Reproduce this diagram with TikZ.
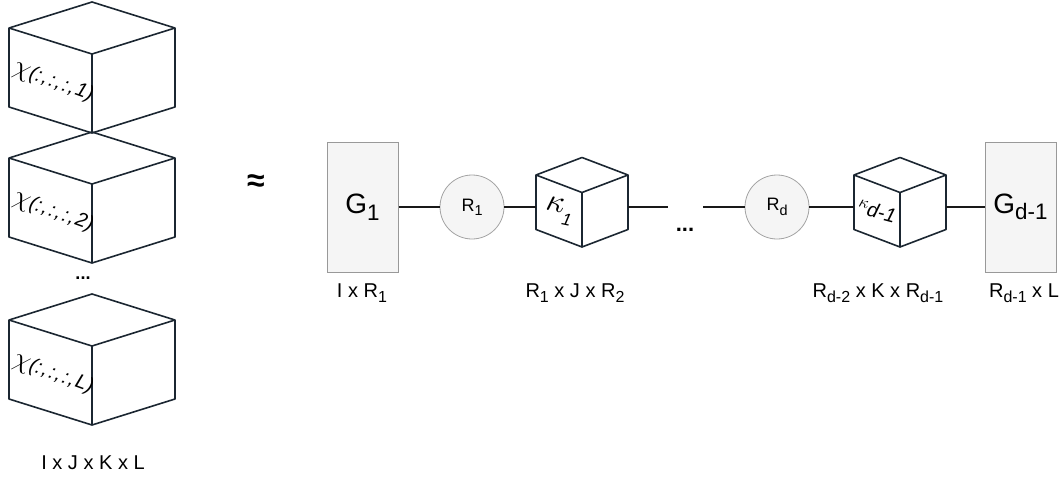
\documentclass[tikz,border=0pt]{standalone}
\usepackage{amsmath}
\usepackage{fontspec}
\usepackage{unicode-math}
\setmainfont{Liberation Sans}
\setmathfont{Latin Modern Math}
\usetikzlibrary{positioning}
\definecolor{edgeblue}{HTML}{1B2631}
\definecolor{panel}{HTML}{F5F5F5}
\definecolor{rim}{HTML}{999999}
\tikzset{%
	cubeline/.style = {draw=edgeblue, line width=1.6pt, line join=round},
	core/.style     = {draw=rim, fill=panel, line width=1pt, minimum width=71pt, minimum height=130pt, inner sep=0pt, font=\fontsize{28}{30}\selectfont},
	rank/.style     = {draw=rim!90, fill=panel, circle, line width=0.8pt, minimum size=64pt, inner sep=0pt, font=\fontsize{18}{20}\selectfont},
	dims/.style     = {font=\fontsize{20}{22}\selectfont},
	slice/.style    = {rotate=-20, inner sep=0pt, font=\itshape\fontsize{20}{21}\selectfont},
	link/.style     = {line width=2pt, black!90},
	pics/cube/.style n args = {3}{code={%
		\draw[cubeline] (0,0) -- (-#1,#2) -- (-#1,#2+#3) -- (0,2*#2+#3) -- (#1,#2+#3) -- (#1,#2) -- cycle
			(-#1,#2) -- (0,2*#2) -- (#1,#2)
			(0,2*#2) -- (0,2*#2+#3);
		\coordinate (-west) at (-#1,#2+0.58*#3);
		\coordinate (-east) at (#1,#2+0.58*#3);
		\coordinate (-face) at (-0.5*#1,1.5*#2+0.5*#3);
	}},
}
\newcommand{\ix}[1]{\raisebox{-0.45ex}{\scalebox{0.8}{#1}}}
\newcommand{\bigsym}[2]{{\fontsize{#1}{#1}\selectfont$#2$}}

\begin{document}
\begin{tikzpicture}[x=1pt,y=-1pt]
	\useasboundingbox (0,0) rectangle (1063,477);
	
	% slices of the tensor, stacked
	\foreach \ytop/\sl in {2/1,132/2,294/L} {
		\pic (x\sl) at (92,\ytop) {cube={83}{26}{79}};
		\node[slice, xshift=3pt, yshift=-1pt] (lbl\sl) at (x\sl-face)
			{\bigsym{27}{\chi}(:\kern1.5pt,\kern1.5pt:\kern1.5pt,\kern1.5pt:\kern1.5pt,\kern1.5pt\sl)};
	}
	\node[font=\bfseries\fontsize{18}{20}\selectfont] (vdots) at (83,278) {...};
	\node[dims] (xsize) at (93,463) {I x J x K x L};
	
	\node[font=\bfseries\fontsize{32}{32}\selectfont] (approx) at (256,183) {≈};
	
	% train of cores
	\node[core] (g1) at (362.5,207) {G\ix{1}};
	\node[rank] (r1) at (472,207) {R\ix{1}};
	\pic (k1) at (582,157.5) {cube={46}{17.5}{54.5}};
	\node[rank] (rd) at (777,207) {R\ix{d}};
	\pic (kd) at (900,157.5) {cube={46}{17.5}{54.5}};
	\node[core] (gd) at (1020.5,207) {G\ix{d-1}};
	
	\node[rotate=-12, inner sep=0pt, font=\itshape\fontsize{17}{18}\selectfont] (k1name) at (k1-face)
		{\bigsym{32}{\kappa}\raisebox{-1.2ex}{1}};
	\node[rotate=-15, inner sep=0pt, font=\itshape\fontsize{20}{22}\selectfont] (kdname) at (kd-face)
		{\raisebox{0.6ex}{\bigsym{17}{\kappa}}d-1};
	
	\coordinate (gapl) at (668,207);
	\coordinate (gapr) at (703,207);
	\node[font=\bfseries\fontsize{22}{22}\selectfont] (dots) at (685,230) {...};
	
	\draw[link] (g1) -- (r1);
	\draw[link] (r1) -- (r1 -| k1-west);
	\draw[link] (k1-east) -- (k1-east -| gapl);
	\draw[link] (gapr) -- (rd);
	\draw[link] (rd) -- (rd -| kd-west);
	\draw[link] (kd-east) -- (kd-east -| gd.west);
	
	% sizes
	\node[dims] (g1size) at (362,293) {I x R\ix{1}};
	\node[dims] (k1size) at (575,293) {R\ix{1} x J x R\ix{2}};
	\node[dims] (kdsize) at (878,293) {R\ix{d-2} x K x R\ix{d-1}};
	\node[dims] (gdsize) at (1024,293) {R\ix{d-1} x L};
\end{tikzpicture}
\end{document}
